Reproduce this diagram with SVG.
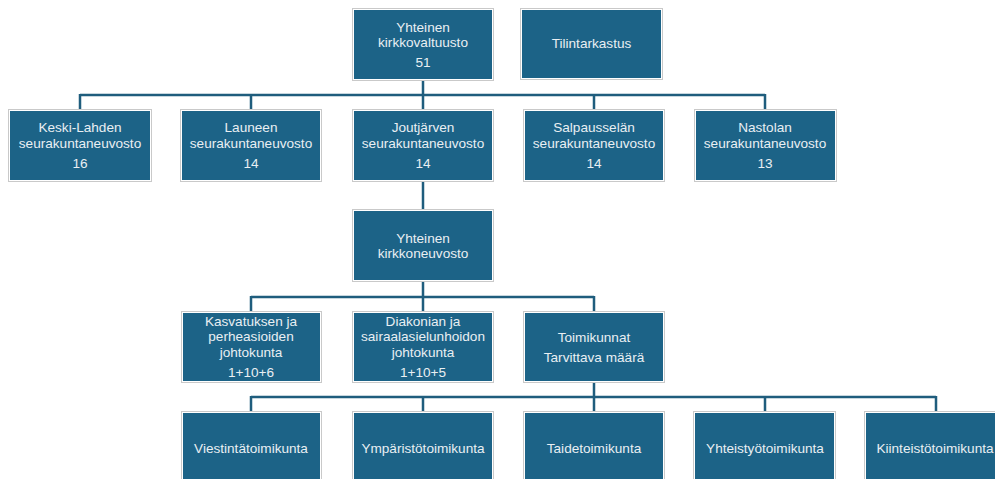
<svg xmlns="http://www.w3.org/2000/svg" width="995" height="479" viewBox="0 0 995 479">
<style>
.o{fill:#ffffff;stroke:#c9c9c9;stroke-width:1}
.i{fill:#1c6387}
.t{font-family:"Liberation Sans",Arial,sans-serif;font-size:13.6px;fill:#e9eff3;text-anchor:middle}
.c{fill:none;stroke:#1f5d7d;stroke-width:2.5}
</style>
<rect width="995" height="479" fill="#ffffff"/>
<g id="connectors">
<path class="c" d="M423 81V109M80 95H765M80 94V109M251 95V109M594 95V109M765 94V109"/>
<path class="c" d="M423 182V209"/>
<path class="c" d="M423 282V311M251 297H594M251 296V311M594 296V311"/>
<path class="c" d="M594 383V411M251 397H936M251 396V411M423 397V411M765 397V411M936 396V411"/>
</g>
<g id="kirkkovaltuusto"><rect class="o" x="352.5" y="8.5" width="141" height="72"/><rect class="i" x="354" y="10" width="138" height="69"/>
<text class="t" x="423" y="31.5">Yhteinen</text><text class="t" x="423" y="46.7">kirkkovaltuusto</text><text class="t" x="423" y="66.7">51</text></g>
<g id="tilintarkastus"><rect class="o" x="520.5" y="8.5" width="142" height="71"/><rect class="i" x="522" y="10" width="139" height="68"/>
<text class="t" x="591.5" y="48">Tilintarkastus</text></g>
<g id="keskilahti"><rect class="o" x="8.5" y="109.5" width="143" height="72"/><rect class="i" x="10" y="111" width="140" height="69"/>
<text class="t" x="80" y="132">Keski-Lahden</text><text class="t" x="80" y="148">seurakuntaneuvosto</text><text class="t" x="80" y="167.5">16</text></g>
<g id="launeen"><rect class="o" x="180.5" y="109.5" width="141" height="72"/><rect class="i" x="182" y="111" width="138" height="69"/>
<text class="t" x="251" y="132">Launeen</text><text class="t" x="251" y="148">seurakuntaneuvosto</text><text class="t" x="251" y="167.5">14</text></g>
<g id="joutjarven"><rect class="o" x="352.5" y="109.5" width="141" height="72"/><rect class="i" x="354" y="111" width="138" height="69"/>
<text class="t" x="423" y="132">Joutjärven</text><text class="t" x="423" y="148">seurakuntaneuvosto</text><text class="t" x="423" y="167.5">14</text></g>
<g id="salpausselan"><rect class="o" x="523.5" y="109.5" width="141" height="72"/><rect class="i" x="525" y="111" width="138" height="69"/>
<text class="t" x="594" y="132">Salpausselän</text><text class="t" x="594" y="148">seurakuntaneuvosto</text><text class="t" x="594" y="167.5">14</text></g>
<g id="nastolan"><rect class="o" x="694.5" y="109.5" width="142" height="72"/><rect class="i" x="696" y="111" width="139" height="69"/>
<text class="t" x="765" y="132">Nastolan</text><text class="t" x="765" y="148">seurakuntaneuvosto</text><text class="t" x="765" y="167.5">13</text></g>
<g id="kirkkoneuvosto"><rect class="o" x="352.5" y="209.5" width="141" height="72"/><rect class="i" x="354" y="211" width="138" height="69"/>
<text class="t" x="423" y="243.3">Yhteinen</text><text class="t" x="423" y="258">kirkkoneuvosto</text></g>
<g id="kasvatus"><rect class="o" x="181.5" y="311.5" width="140" height="71"/><rect class="i" x="183" y="313" width="137" height="68"/>
<text class="t" x="251" y="325.5">Kasvatuksen ja</text><text class="t" x="251" y="341">perheasioiden</text><text class="t" x="251" y="356.7">johtokunta</text><text class="t" x="251" y="376.7">1+10+6</text></g>
<g id="diakonia"><rect class="o" x="352.5" y="311.5" width="141" height="71"/><rect class="i" x="354" y="313" width="138" height="68"/>
<text class="t" x="423" y="325.5">Diakonian ja</text><text class="t" x="423" y="341">sairaalasielunhoidon</text><text class="t" x="423" y="356.7">johtokunta</text><text class="t" x="423" y="376.7">1+10+5</text></g>
<g id="toimikunnat"><rect class="o" x="523.5" y="311.5" width="141" height="71"/><rect class="i" x="525" y="313" width="138" height="68"/>
<text class="t" x="594" y="341.7">Toimikunnat</text><text class="t" x="594" y="361.7">Tarvittava määrä</text></g>
<g id="viestinta"><rect class="o" x="181.5" y="411.5" width="140" height="75"/><rect class="i" x="183" y="413" width="137" height="72"/>
<text class="t" x="251" y="452.5">Viestintätoimikunta</text></g>
<g id="ymparisto"><rect class="o" x="352.5" y="411.5" width="141" height="75"/><rect class="i" x="354" y="413" width="138" height="72"/>
<text class="t" x="423" y="452.5">Ympäristötoimikunta</text></g>
<g id="taide"><rect class="o" x="523.5" y="411.5" width="141" height="75"/><rect class="i" x="525" y="413" width="138" height="72"/>
<text class="t" x="594" y="452.5">Taidetoimikunta</text></g>
<g id="yhteistyo"><rect class="o" x="693.5" y="411.5" width="142" height="75"/><rect class="i" x="695" y="413" width="139" height="72"/>
<text class="t" x="765" y="452.5">Yhteistyötoimikunta</text></g>
<g id="kiinteisto"><rect class="o" x="864.5" y="411.5" width="142" height="75"/><rect class="i" x="866" y="413" width="139" height="72"/>
<text class="t" x="935" y="452.5">Kiinteistötoimikunta</text></g>
</svg>
